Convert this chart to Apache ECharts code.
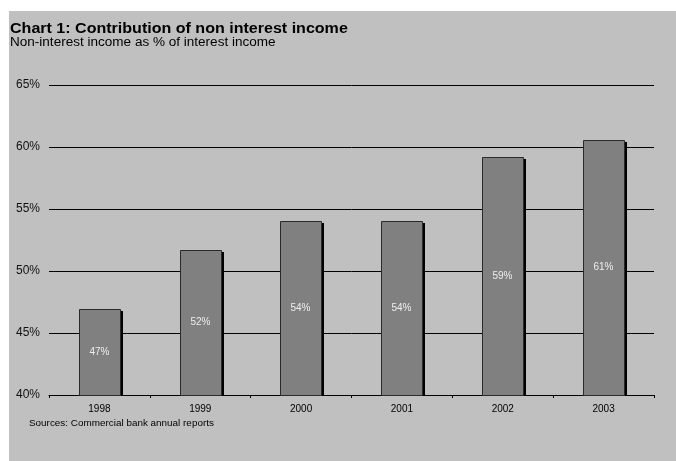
<!DOCTYPE html>
<html><head><meta charset="utf-8">
<script src="https://cdn.jsdelivr.net/npm/echarts@6/dist/echarts.min.js"></script>
<style>html,body{margin:0;padding:0;background:#fff}#c{width:676px;height:461px}</style>
</head><body><div id="c"></div>
<script>
var years = ['1998','1999','2000','2001','2002','2003'];
var values = [46.9, 51.7, 54.0, 54.0, 59.2, 60.6];
var labels = ['47%','52%','54%','54%','59%','61%'];
var yTicks = [40, 45, 50, 55, 60, 65];

var chart = echarts.init(document.getElementById('c'));
chart.setOption({
  animation: false,
  backgroundColor: '#ffffff',
  graphic: [
    {type:'rect', left:9, top:11, shape:{width:667, height:450}, style:{fill:'#c0c0c0'}, z:-10},
    {type:'text', x:10, y:29, scaleX:1.146, style:{x:0, y:0, text:'Chart 1: Contribution of non interest income', font:'bold 14px "Liberation Sans", Arial', fill:'#000', verticalAlign:'middle'}},
    {type:'text', x:10, y:43, scaleX:1.128, style:{x:0, y:0, text:'Non-interest income as % of interest income', font:'12px "Liberation Sans", Arial', fill:'#000', verticalAlign:'middle'}},
    {type:'text', x:29, y:424, scaleX:1.1, style:{x:0, y:0, text:'Sources: Commercial bank annual reports', font:'9px "Liberation Sans", Arial', fill:'#000', verticalAlign:'middle'}}
  ],
  grid: {left:49, right:22, top:85, bottom:66},
  xAxis: {
    type:'category', data: years,
    axisLine:{show:true, lineStyle:{color:'#000', width:1}},
    axisTick:{show:true, alignWithLabel:false, length:3, lineStyle:{color:'#000'}},
    axisLabel:{color:'#000', fontSize:10, fontFamily:'Liberation Sans', margin:9}
  },
  yAxis: {
    type:'value', min:40, max:65, interval:5,
    axisLine:{show:false}, axisTick:{show:false},
    splitLine:{show:true, lineStyle:{color:'#000', width:1}},
    axisLabel:{color:'#111', fontSize:12, fontFamily:'Liberation Sans', margin:9,
      formatter:function(v){return yTicks.indexOf(v)>=0 ? v+'%' : '';}}
  },
  series: [{
    type:'custom',
    data: values.map(function(v,i){return [i, v];}),
    renderItem: function(params, api){
      var top = api.coord([api.value(0), api.value(1)]);
      var base = api.coord([api.value(0), 40]);
      var w = api.size([1,0])[0]*0.41;
      var x0 = Math.round(top[0]-w/2), y0 = Math.round(top[1]);
      var h = Math.round(base[1]) - y0;
      w = Math.round(w);
      return {type:'group', children:[
        {type:'rect', shape:{x:x0+3, y:y0+2, width:w, height:h-2}, style:{fill:'#000'}},
        {type:'rect', shape:{x:x0+0.5, y:y0+0.5, width:w, height:h}, style:{fill:'#808080', stroke:'#2a2a2a', lineWidth:1}},
        {type:'text', x:x0+w/2, y:y0+h/2, style:{text:labels[params.dataIndex], fill:'#eeeeee', font:'10px "Liberation Sans", Arial', align:'center', verticalAlign:'middle'}}
      ]};
    }
  }]
});
</script></body></html>
